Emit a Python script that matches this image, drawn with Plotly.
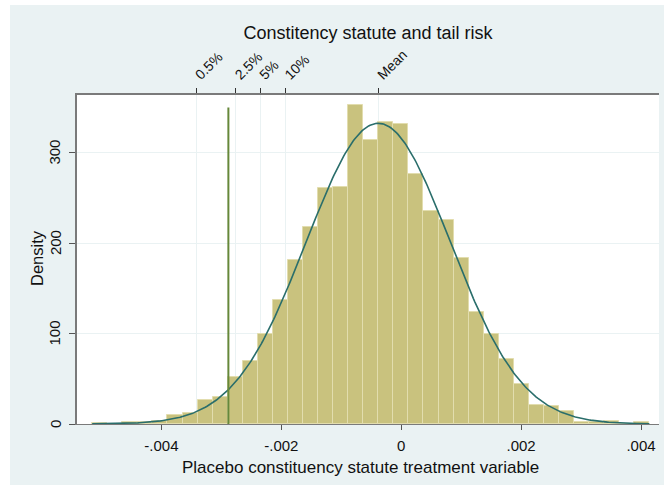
import numpy as np
import plotly.graph_objects as go

# ---- data ----
bin_start = -0.005155
bin_width = 0.0002512
densities = [1.5, 0.5, 2, 2.5, 3.5, 10, 12, 26, 30, 52, 70, 99.5, 137, 181, 218, 261, 262,
             353, 314, 333.5, 332, 276, 235, 226, 184, 123.5, 99, 71.5, 44, 21, 20, 14,
             2.5, 2.5, 3, 0, 2.5]
mean_val = -0.000383
sd_val = 0.0012
actual_x = -0.002883
actual_top = 350
top_tick_vals = [-0.003422, -0.002761, -0.00235, -0.001928, -0.000383]
top_tick_text = ["0.5%", "2.5%", "5%", "10%", "Mean"]
bottom_tick_vals = [-0.004, -0.002, 0, 0.002, 0.004]
bottom_tick_text = ["-.004", "-.002", "0", ".002", ".004"]
y_tick_vals = [0, 100, 200, 300]
y_tick_text = ["0", "100", "200", "300"]

n = len(densities)
centers = [bin_start + bin_width * (i + 0.5) for i in range(n)]
xs = np.linspace(bin_start, bin_start + bin_width * n, 400)
ys = np.exp(-0.5 * ((xs - mean_val) / sd_val) ** 2) / (sd_val * np.sqrt(2 * np.pi))

W, H = 664, 485
ml, mr, mt, mb = 77, 5, 95, 61
pw, ph = W - ml - mr, H - mt - mb
xr = [-0.005408, 0.0043]
yr = [0, 363.7]
bg = "#EAF2F3"
font = "Liberation Sans, Arial, sans-serif"


def px_x(p):
    return (p - ml) / pw


def px_y(p):
    return (H - mb - p) / ph


fig = go.Figure()
fig.add_trace(go.Bar(x=centers, y=densities, width=bin_width,
                     marker=dict(color="#C9C27E", line=dict(color="#E2DDAE", width=1)),
                     hoverinfo="skip"))
fig.add_trace(go.Scatter(x=xs, y=ys, mode="lines",
                         line=dict(color="#2A6E6B", width=1.6), hoverinfo="skip"))
fig.add_trace(go.Scatter(x=[actual_x, actual_x], y=[0, actual_top], mode="lines",
                         line=dict(color="#66883A", width=2), hoverinfo="skip"))
fig.add_trace(go.Scatter(x=[top_tick_vals[0]], y=[0], xaxis="x2", mode="markers",
                         marker=dict(opacity=0), hoverinfo="skip"))

# white strips outside the light-blue graph region
fig.add_shape(type="rect", xref="paper", yref="paper", layer="below",
              x0=px_x(0), x1=px_x(10), y0=px_y(H) - 0.01, y1=px_y(0) + 0.01,
              fillcolor="white", line=dict(width=0))
fig.add_shape(type="rect", xref="paper", yref="paper", layer="below",
              x0=px_x(0), x1=px_x(W) + 0.01, y0=px_y(5), y1=px_y(0) + 0.01,
              fillcolor="white", line=dict(width=0))

# y tick labels (rotated, Stata style)
for v, t in zip(y_tick_vals, y_tick_text):
    fig.add_annotation(x=px_x(55), xref="paper", y=v, yref="y", text=t,
                       textangle=-90, showarrow=False, xanchor="center", yanchor="middle",
                       font=dict(size=15, color="#111"))
fig.add_annotation(x=px_x(37), xref="paper", y=px_y(258), yref="paper", text="Density",
                   textangle=-90, showarrow=False, xanchor="center", yanchor="middle",
                   font=dict(size=16.5, color="#111"))
fig.add_annotation(x=px_x(360), xref="paper", y=px_y(468), yref="paper",
                   text="Placebo constituency statute treatment variable",
                   showarrow=False, xanchor="center", yanchor="middle",
                   font=dict(size=17, color="#111"))

fig.update_layout(
    width=W, height=H,
    margin=dict(l=ml, r=mr, t=mt, b=mb, pad=0),
    paper_bgcolor=bg, plot_bgcolor="white",
    showlegend=False, bargap=0,
    font=dict(family=font, size=15, color="#111"),
    title=dict(text="Constitency statute and tail risk", x=px_x(368), xref="paper",
               xanchor="center", y=1 - 33 / H, yanchor="middle",
               font=dict(size=18, color="#111")),
    xaxis=dict(range=xr, tickvals=bottom_tick_vals, ticktext=bottom_tick_text,
               showgrid=False, zeroline=False, showline=True, linecolor="#7a7a7a",
               linewidth=1, ticks="outside", ticklen=5, tickcolor="#555",
               tickfont=dict(size=15), ticklabelstandoff=3),
    xaxis2=dict(range=xr, overlaying="x", side="top", tickvals=top_tick_vals,
                ticktext=top_tick_text, tickangle=-45, showgrid=True, gridcolor=bg,
                gridwidth=1, zeroline=False, showline=True, linecolor="#7a7a7a",
                linewidth=1.5, ticks="outside", ticklen=5, tickcolor="#333",
                tickfont=dict(size=14)),
    yaxis=dict(range=yr, tickvals=y_tick_vals, showticklabels=False, showgrid=True,
               gridcolor=bg, gridwidth=1, zeroline=False, showline=True,
               linecolor="#7a7a7a", linewidth=1.5, ticks="outside", ticklen=6,
               tickcolor="#555"),
)

fig.write_html("out.html")
